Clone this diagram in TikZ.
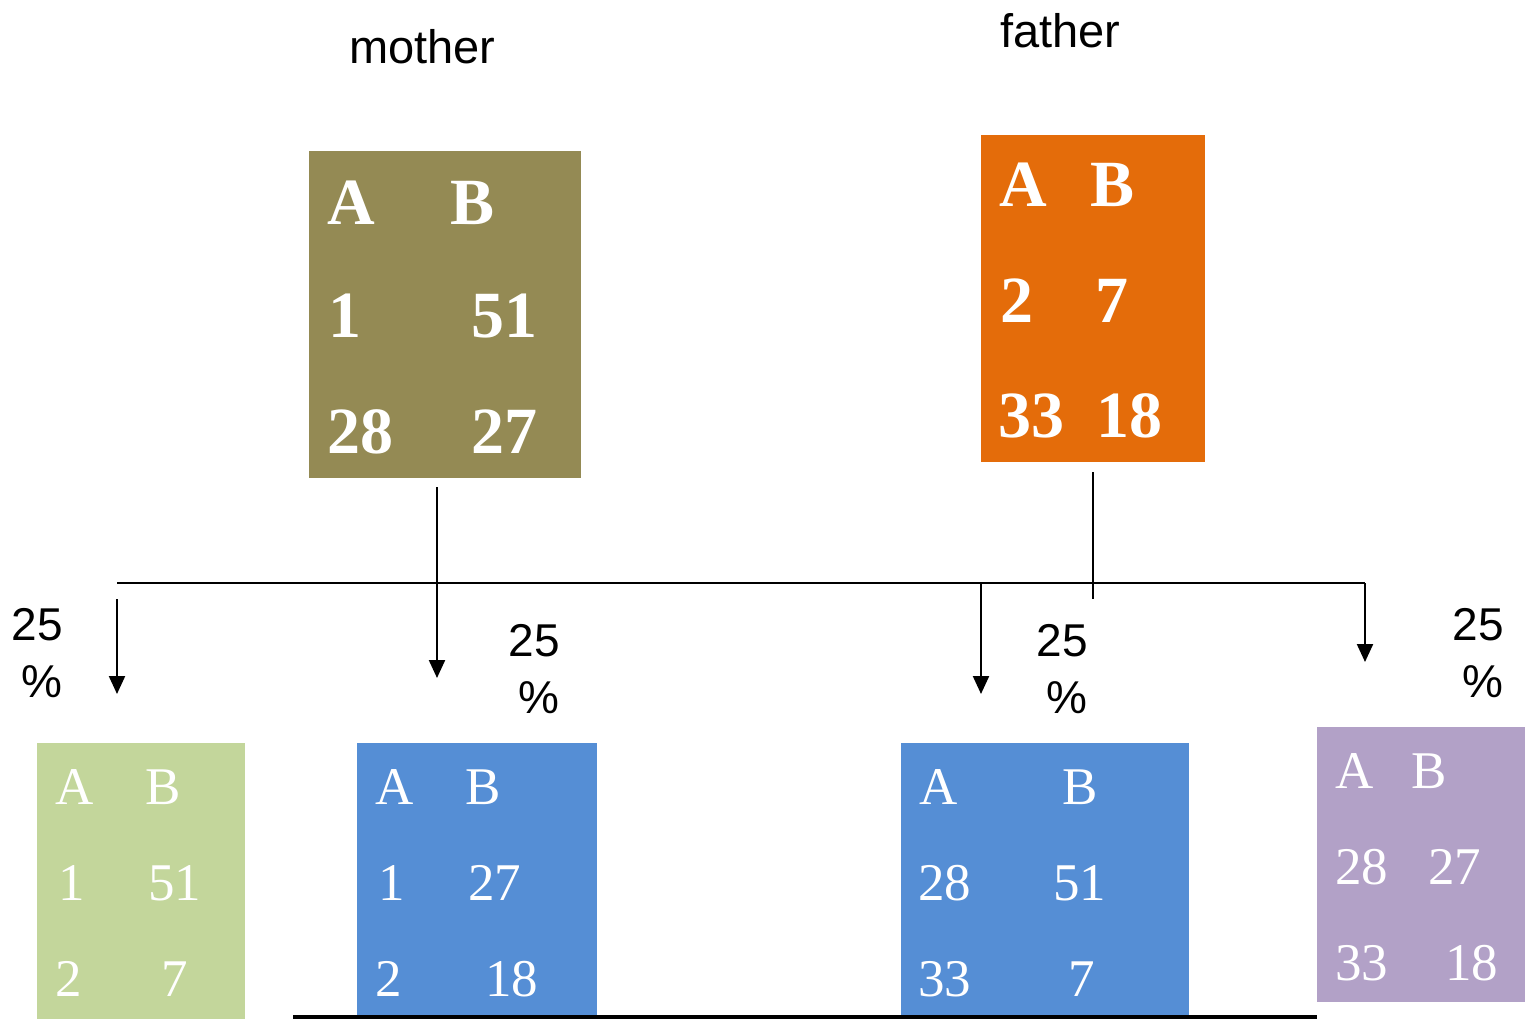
\documentclass[tikz,border=0pt]{standalone}
\usepackage{fontspec}
\setmainfont{Liberation Serif}
\setsansfont{Liberation Sans}
\usetikzlibrary{arrows.meta}
\definecolor{olivebox}{HTML}{948A54}
\definecolor{orangebox}{HTML}{E46C0A}
\definecolor{greenbox}{HTML}{C3D69B}
\definecolor{bluebox}{HTML}{558ED5}
\definecolor{purplebox}{HTML}{B2A1C7}
\tikzset{
  parentbox/.style={rectangle, draw=none, inner sep=0, anchor=north west},
  bigcell/.style={anchor=base west, inner sep=0, text=white, xshift=-2pt,
    font=\fontsize{66}{66}\selectfont\bfseries},
  smallcell/.style={anchor=base west, inner sep=0, text=white, xshift=-2pt,
    font=\fontsize{53}{53}\selectfont},
  caption/.style={anchor=base west, inner sep=0, font=\fontsize{47}{47}\selectfont\sffamily},
  pct/.style={anchor=base east, inner sep=0, font=\fontsize{46}{46}\selectfont\sffamily},
  wire/.style={line width=2.2pt},
  arrowwire/.style={line width=2.2pt, arrows={-Triangle[width=16pt,length=18pt]}},
}
\begin{document}
\begin{tikzpicture}[x=1pt,y=-1pt]
\useasboundingbox (0,0) rectangle (1525,1019);

% parents
\node[caption] (mlabel) at (349,64) {mother};
\node[caption] (flabel) at (1000,48) {father};

\node[parentbox, fill=olivebox, minimum width=272pt, minimum height=327pt] (mother) at (309,151) {};
\node[bigcell] (m11) at (329,224) {A};
\node[bigcell] (m12) at (452,224) {B};
\node[bigcell] (m21) at (330,337) {1};
\node[bigcell] (m22) at (473,337) {51};
\node[bigcell] (m31) at (329,453) {28};
\node[bigcell] (m32) at (473,453) {27};

\node[parentbox, fill=orangebox, minimum width=224pt, minimum height=327pt] (father) at (981,135) {};
\node[bigcell] (f11) at (1001,207) {A};
\node[bigcell] (f12) at (1092,207) {B};
\node[bigcell] (f21) at (1002,322) {2};
\node[bigcell] (f22) at (1097,322) {7};
\node[bigcell] (f31) at (1000,437) {33};
\node[bigcell] (f32) at (1098,437) {18};

% connector ends
\coordinate (mtop) at (437,487);
\coordinate (mtip) at (437,678);
\coordinate (ftop) at (1093,472);
\coordinate (fbot) at (1093,599);
\coordinate (barL) at (117,583);
\coordinate (barR) at (1365,583);
\coordinate (aStart) at (117,599);
\coordinate (aTip) at (117,694);
\coordinate (cStart) at (981,583);
\coordinate (cTip) at (981,694);
\coordinate (dTip) at (1365,662);
\coordinate (baseL) at (293,1017);
\coordinate (baseR) at (1317,1017);

\draw[wire] (barL) -- (barR);
\draw[arrowwire] (mtop) -- (mtip);
\draw[wire] (ftop) -- (fbot);
\draw[arrowwire] (aStart) -- (aTip);
\draw[arrowwire] (cStart) -- (cTip);
\draw[arrowwire] (barR) -- (dTip);

% percentages
\node[pct] (p1a) at (63,640) {25};
\node[pct] (p1b) at (63,697) {\%};
\node[pct] (p2a) at (560,656) {25};
\node[pct] (p2b) at (560,713) {\%};
\node[pct] (p3a) at (1088,656) {25};
\node[pct] (p3b) at (1088,713) {\%};
\node[pct] (p4a) at (1504,640) {25};
\node[pct] (p4b) at (1504,697) {\%};

% offspring
\node[parentbox, fill=greenbox, minimum width=208pt, minimum height=276pt] (kid1) at (37,743) {};
\node[smallcell] (k1a) at (57,804) {A};
\node[smallcell] (k1b) at (147,804) {B};
\node[smallcell] (k1c) at (60,900) {1};
\node[smallcell] (k1d) at (150,900) {51};
\node[smallcell] (k1e) at (57,996) {2};
\node[smallcell] (k1f) at (163,996) {7};

\node[parentbox, fill=bluebox, minimum width=240pt, minimum height=274pt] (kid2) at (357,743) {};
\node[smallcell] (k2a) at (377,804) {A};
\node[smallcell] (k2b) at (467,804) {B};
\node[smallcell] (k2c) at (380,900) {1};
\node[smallcell] (k2d) at (470,900) {27};
\node[smallcell] (k2e) at (377,996) {2};
\node[smallcell] (k2f) at (487,996) {18};

\node[parentbox, fill=bluebox, minimum width=288pt, minimum height=274pt] (kid3) at (901,743) {};
\node[smallcell] (k3a) at (921,804) {A};
\node[smallcell] (k3b) at (1064,804) {B};
\node[smallcell] (k3c) at (920,900) {28};
\node[smallcell] (k3d) at (1055,900) {51};
\node[smallcell] (k3e) at (920,996) {33};
\node[smallcell] (k3f) at (1070,996) {7};

\node[parentbox, fill=purplebox, minimum width=208pt, minimum height=275pt] (kid4) at (1317,727) {};
\node[smallcell] (k4a) at (1337,788) {A};
\node[smallcell] (k4b) at (1413,788) {B};
\node[smallcell] (k4c) at (1337,884) {28};
\node[smallcell] (k4d) at (1430,884) {27};
\node[smallcell] (k4e) at (1337,980) {33};
\node[smallcell] (k4f) at (1447,980) {18};

\draw[line width=4pt] (baseL) -- (baseR);
\end{tikzpicture}
\end{document}
